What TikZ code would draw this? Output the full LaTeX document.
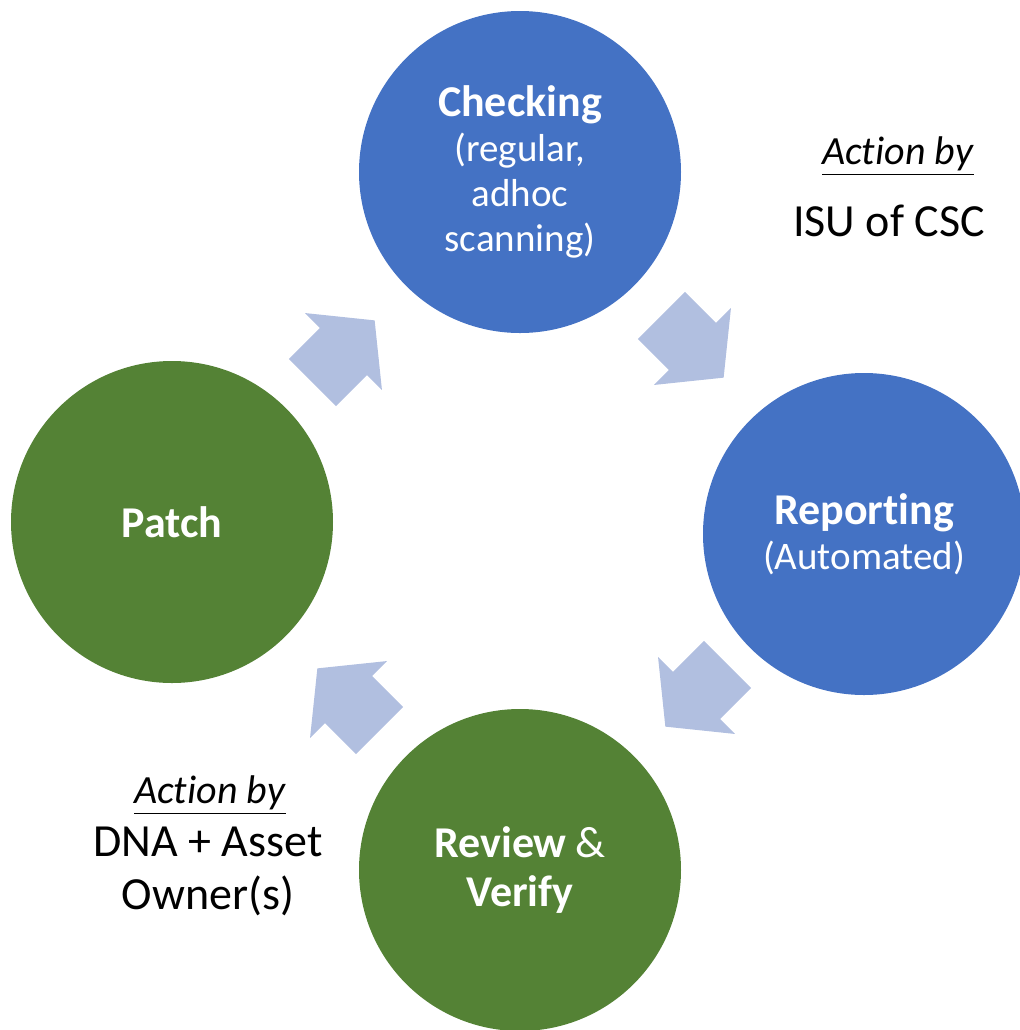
\documentclass[tikz,border=0pt]{standalone}
\usepackage{fontspec}
\setmainfont{Carlito}[Ligatures={NoCommon,NoContextual,NoRare}]
\usetikzlibrary{shapes.arrows}
\definecolor{cycblue}{HTML}{4472C4}
\definecolor{cycgreen}{HTML}{548235}
\definecolor{cycarrow}{HTML}{B1BFE0}
\newcommand{\titlefont}{\fontsize{22}{24}\selectfont\bfseries}
\begin{document}
\begin{tikzpicture}[x=0.5pt, y=-0.5pt,
	every node/.style={inner sep=0pt},
	stage/.style={circle, minimum size=161pt, text=white, align=center, font=\fontsize{19.5}{22.5}\selectfont},
	flow/.style={single arrow, fill=cycarrow, minimum height=44pt, single arrow head extend=10.5pt, inner ysep=16.5pt, inner xsep=0pt, single arrow tip angle=102, anchor=tip},
	note/.style={align=center, font=\fontsize{23}{26.5}\selectfont}]
	\useasboundingbox (0,0) rectangle (1020,1030);
	% the four stages
	\node[stage, fill=cycblue] (check) at (520,172) {{\titlefont Checking}\\[0pt](regular,\\adhoc\\scanning)};
	\node[stage, fill=cycblue] (report) at (864,534) {{\titlefont Reporting}\\[0pt](Automated)};
	\node[stage, fill=cycgreen] (review) at (520,870) {{\titlefont Review} {\fontsize{22}{24}\selectfont\&}\\[2pt]{\titlefont Verify}};
	\node[stage, fill=cycgreen] (patch) at (172,522) {\titlefont Patch};
	% block arrows between stages
	\node[flow, rotate=45] (p2c) at (375,320) {};
	\node[flow, rotate=-45] (c2r) at (724,378) {};
	\node[flow, rotate=-135] (r2v) at (665,727) {};
	\node[flow, rotate=135] (v2p) at (317,668) {};
	% who acts
	\node[note, font=\fontsize{20}{24}\selectfont] (byisu) at (898,156) {\underline{\textit{Action by}}};
	\node[note] (isu) at (889,221) {ISU of CSC};
	\node[note, font=\fontsize{20}{24}\selectfont] (bydna) at (210,795) {\underline{\textit{Action by}}};
	\node[note] (dna) at (208,871) {DNA + Asset\\Owner(s)};
\end{tikzpicture}
\end{document}
